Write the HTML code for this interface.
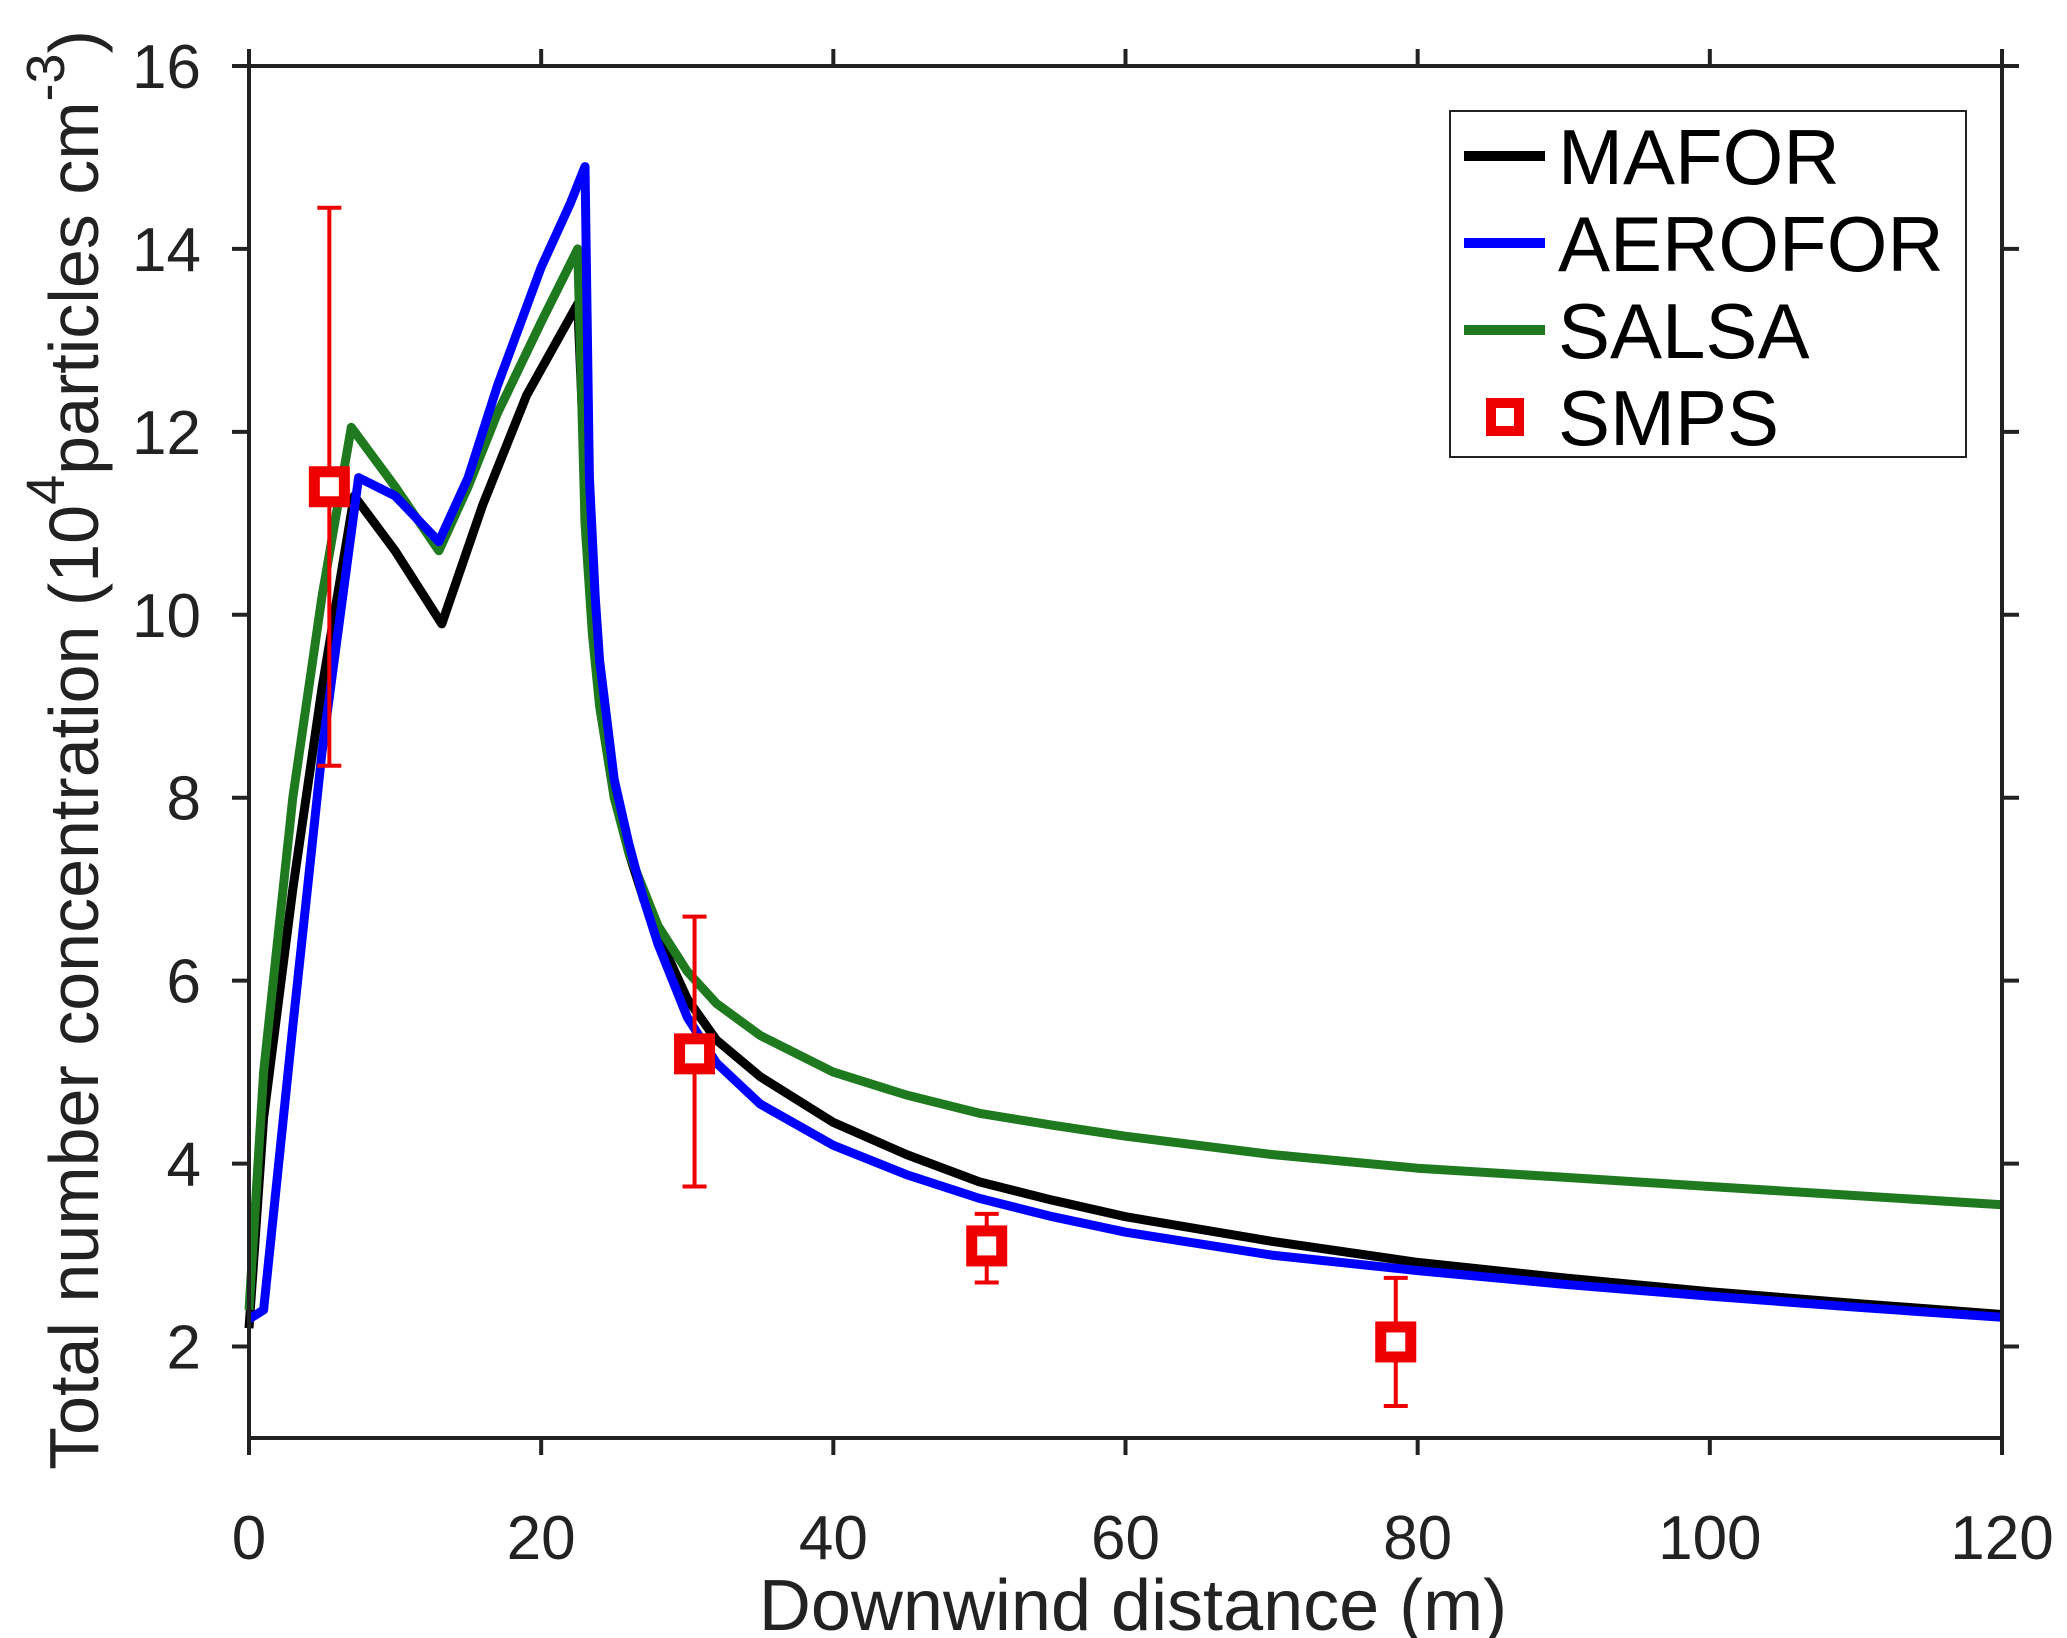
<!DOCTYPE html>
<html><head><meta charset="utf-8"><style>
html,body{margin:0;padding:0;background:#fff;}
svg{display:block;font-family:"Liberation Sans",sans-serif;}
</style></head><body>
<svg id="chart" width="2067" height="1638" viewBox="0 0 2067 1638" xmlns="http://www.w3.org/2000/svg">
<rect x="0" y="0" width="2067" height="1638" fill="#fff"/>
<g id="series"></g>
<g id="axes"></g>
<g id="legend">
  <rect x="1450" y="111" width="516" height="346" fill="#fff" stroke="#222" stroke-width="2"/>
  <g><line x1="1464" y1="156" x2="1545" y2="156" stroke="#000" stroke-width="10"/><text x="1558" y="184" font-size="78">MAFOR</text></g>
  <g><line x1="1464" y1="243" x2="1545" y2="243" stroke="#0000ff" stroke-width="10"/><text x="1558" y="271" font-size="78">AEROFOR</text></g>
  <g><line x1="1464" y1="330" x2="1545" y2="330" stroke="#1f7a1f" stroke-width="10"/><text x="1558" y="358" font-size="78">SALSA</text></g>
  <g><rect x="1491" y="403" width="28" height="28" fill="#fff" stroke="#ee0000" stroke-width="10"/><text x="1558" y="445" font-size="78">SMPS</text></g>
</g>
<text x="1133" y="1630" font-size="72" text-anchor="middle" fill="#222">Downwind distance (m)</text>
<text transform="translate(98,750) rotate(-90)" font-size="70" text-anchor="middle" fill="#222">Total number concentration (10<tspan dy="-34" font-size="54">4</tspan><tspan dy="34">particles cm</tspan><tspan dy="-34" font-size="54">-3</tspan><tspan dy="34">)</tspan></text>
</svg>
<script>
const xTicks=[0,20,40,60,80,100,120];
const yTicks=[2,4,6,8,10,12,14,16];
const maforX=[0,1,3,5,7.2,10,13.2,16,19,22.5,23,23.5,24,25,26,27,28,30,32,35,40,45,50,55,60,70,80,90,100,110,120];
const maforY=[2.2,4.5,7,9.2,11.3,10.7,9.9,11.2,12.4,13.4,11.5,10.0,9.2,8.1,7.4,6.9,6.5,5.8,5.35,4.95,4.45,4.1,3.8,3.6,3.42,3.15,2.92,2.75,2.6,2.47,2.35];
const aeroX=[0,1,3,5,7.5,10,13,15,17,20,22,23,23.3,23.7,24,25,26,27,28,30,32,35,40,45,50,55,60,70,80,90,100,110,120];
const aeroY=[2.3,2.4,5.5,8.5,11.5,11.3,10.8,11.5,12.5,13.8,14.5,14.9,11.5,10.2,9.5,8.2,7.5,6.9,6.4,5.6,5.1,4.65,4.2,3.88,3.62,3.42,3.25,3.0,2.83,2.68,2.55,2.43,2.32];
const salsaX=[0,1,3,5,7,10,13,15,17,20,22.5,23,23.5,24,25,26,27,28,30,32,35,40,45,50,55,60,70,80,90,100,110,120];
const salsaY=[2.4,5,8,10.2,12.05,11.4,10.7,11.4,12.2,13.2,14.0,11.0,9.8,9.0,8.0,7.4,7.0,6.6,6.1,5.75,5.4,5.0,4.75,4.55,4.42,4.3,4.1,3.95,3.85,3.75,3.65,3.55];
const smpsX=[5.5,30.5,50.5,78.5];
const smpsY=[11.4,5.2,3.1,2.05];
const smpsLo=[8.35,3.75,2.7,1.35];
const smpsHi=[14.45,6.7,3.45,2.75];

const NS='http://www.w3.org/2000/svg';
const L=249,R=2002,T=66,B=1438,XMIN=0,XMAX=120,YMIN=1,YMAX=16;
const sx=v=>L+(v-XMIN)/(XMAX-XMIN)*(R-L);
const sy=v=>B-(v-YMIN)/(YMAX-YMIN)*(B-T);
function mk(tag,attrs,parent){const e=document.createElementNS(NS,tag);for(const k in attrs)e.setAttribute(k,attrs[k]);parent.appendChild(e);return e;}
const ser=document.getElementById('series');
const ax=document.getElementById('axes');
function line(xs,ys,color,name){
  const d=xs.map((x,i)=>(i?'L':'M')+sx(x).toFixed(1)+','+sy(ys[i]).toFixed(1)).join(' ');
  const p=mk('path',{d:d,fill:'none',stroke:color,'stroke-width':9,'stroke-linejoin':'round'},ser);
  
  
}
line(maforX,maforY,'#000','mafor-line');
line(salsaX,salsaY,'#1f7a1f','salsa-line');
line(aeroX,aeroY,'#0000ff','aerofor-line');
smpsX.forEach((x,i)=>{
  const g=mk('g',{},ser);
  
  
  const X=sx(x);
  mk('line',{x1:X,y1:sy(smpsLo[i]),x2:X,y2:sy(smpsHi[i]),stroke:'#ee0000','stroke-width':4},g);
  mk('line',{x1:X-12,y1:sy(smpsLo[i]),x2:X+12,y2:sy(smpsLo[i]),stroke:'#ee0000','stroke-width':4},g);
  mk('line',{x1:X-12,y1:sy(smpsHi[i]),x2:X+12,y2:sy(smpsHi[i]),stroke:'#ee0000','stroke-width':4},g);
  mk('rect',{x:X-15,y:sy(smpsY[i])-15,width:30,height:30,fill:'#fff',stroke:'#ee0000','stroke-width':11},g);
});
const box=mk('rect',{x:L,y:T,width:R-L,height:B-T,fill:'none',stroke:'#222','stroke-width':4},ax);


xTicks.forEach(v=>{
  const X=sx(v);
  mk('line',{x1:X,y1:B,x2:X,y2:B+17,stroke:'#222','stroke-width':4},ax);
  mk('line',{x1:X,y1:T,x2:X,y2:T-17,stroke:'#222','stroke-width':4},ax);
  const t=mk('text',{x:X,y:1559,'font-size':62,'text-anchor':'middle',fill:'#222'},ax);
  t.textContent=v;
  
  
});
yTicks.forEach(v=>{
  const Y=sy(v);
  mk('line',{x1:L,y1:Y,x2:L-17,y2:Y,stroke:'#222','stroke-width':4},ax);
  mk('line',{x1:R,y1:Y,x2:R+17,y2:Y,stroke:'#222','stroke-width':4},ax);
  const t=mk('text',{x:201,y:Y+22,'font-size':62,'text-anchor':'end',fill:'#222'},ax);
  t.textContent=v;
  
  
});
</script>
</body></html>
